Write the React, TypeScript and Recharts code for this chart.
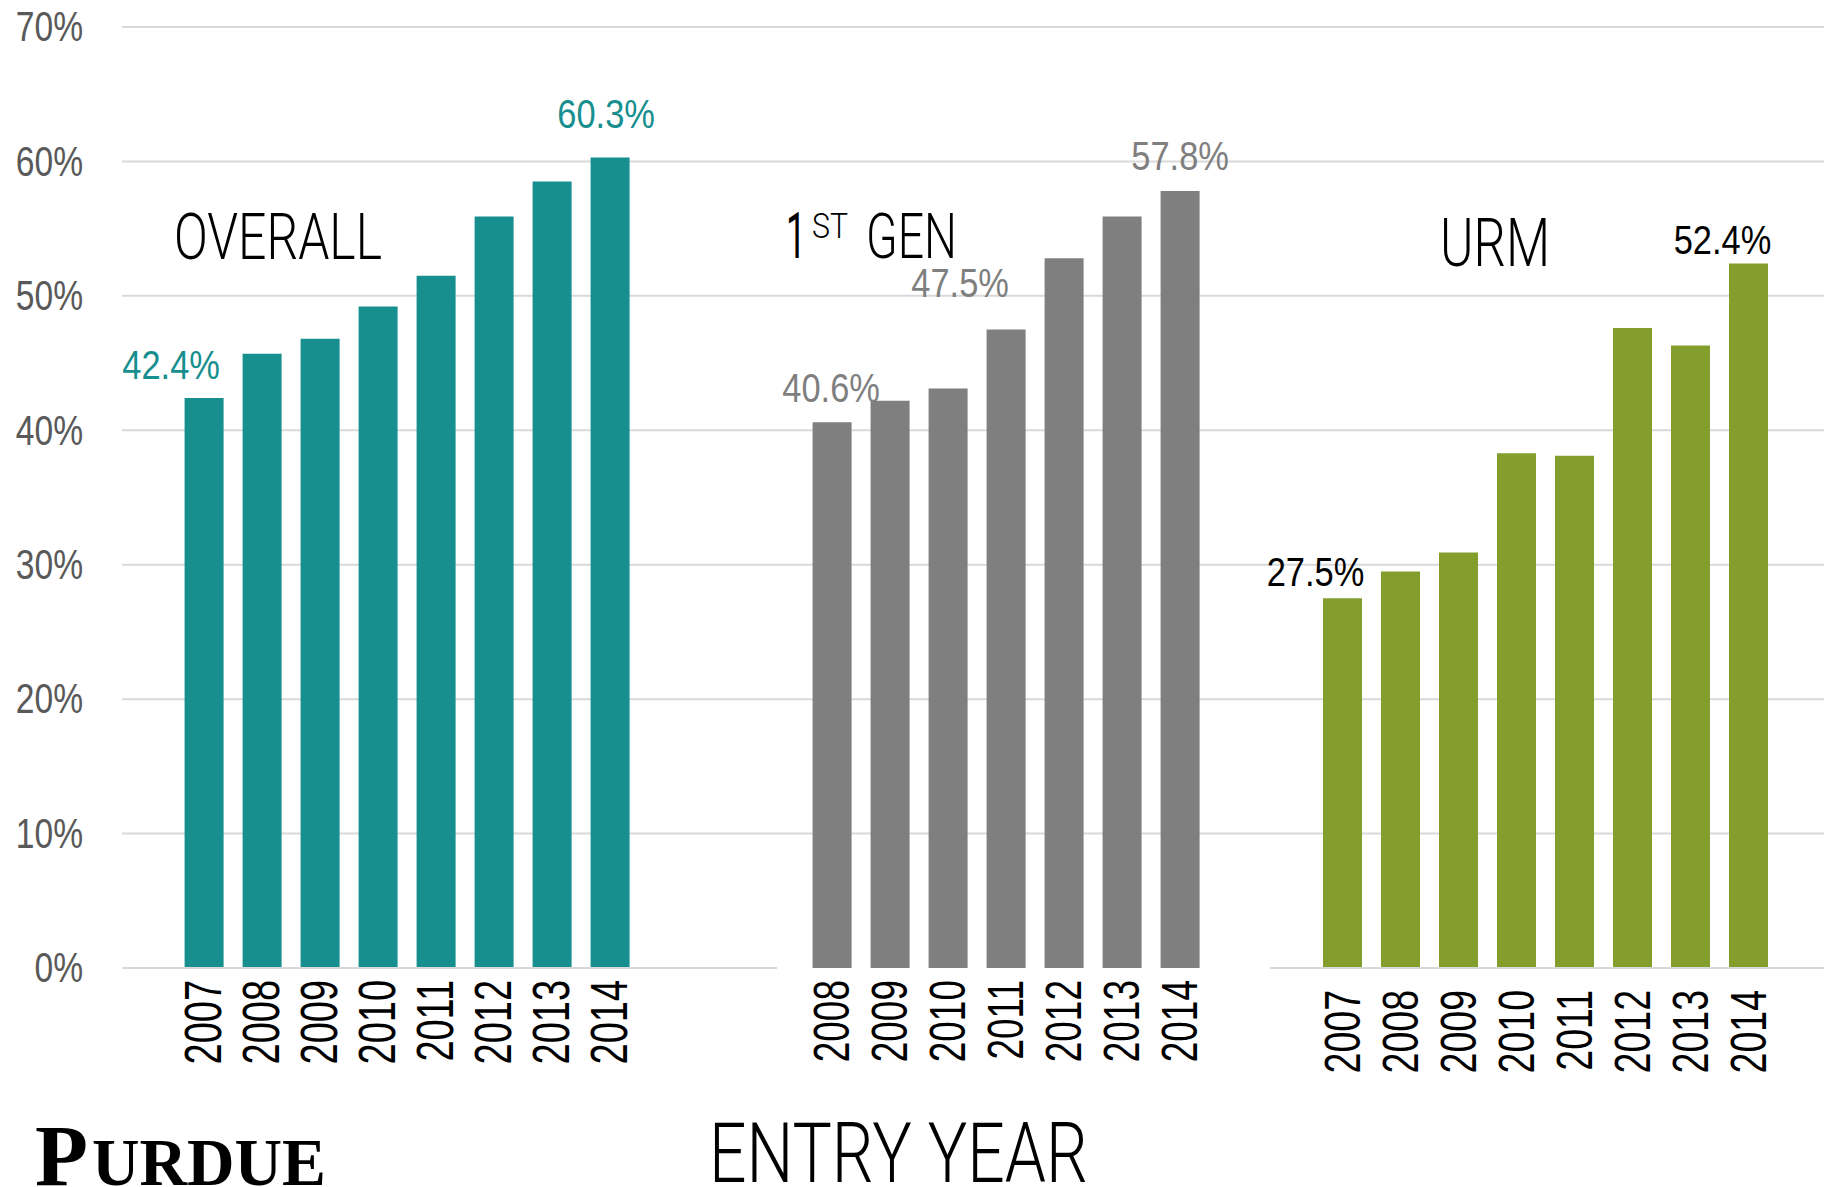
import React from 'react';
import { BarChart, Bar, XAxis, YAxis, CartesianGrid, LabelList } from 'recharts';

// entry years and graduation rates (%) per group
const overallYears = ['2007', '2008', '2009', '2010', '2011', '2012', '2013', '2014'];
const overallRates = [42.4, 45.7, 46.8, 49.2, 51.5, 55.9, 58.5, 60.3];

const firstGenYears = ['2008', '2009', '2010', '2011', '2012', '2013', '2014'];
const firstGenRates = [40.6, 42.2, 43.1, 47.5, 52.8, 55.9, 57.8];

const urmYears = ['2007', '2008', '2009', '2010', '2011', '2012', '2013', '2014'];
const urmRates = [27.5, 29.5, 30.9, 38.3, 38.1, 47.6, 46.3, 52.4];

const yTicks = [0, 10, 20, 30, 40, 50, 60, 70];
const gridValues = [10, 20, 30, 40, 50, 60, 70];

const W = 1824;
const H = 1187;
const PLOT_TOP = 27;
const PLOT_BOTTOM = 968;
const AXIS_H = H - PLOT_BOTTOM;

const TEAL = '#178F8F';
const GREY = '#7F7F7F';
const GREEN = '#839E2C';
const GRID = '#D9D9D9';
const SANS = '"Liberation Sans", Arial, sans-serif';
const LIGHT = 'Roboto, "Liberation Sans", sans-serif';
const SERIF = '"Liberation Serif", serif';

const toRows = (years: string[], rates: number[]) => years.map((year, i) => ({ year, rate: rates[i] }));

type Mark = { index: number; dx: number; gap: number };

// condensed look: regular sans squeezed horizontally
const PercentTick = (props: any) => {
  const { x, y, payload } = props;
  return (
    <text
      transform={`translate(${x},${y}) scale(0.8,1)`}
      textAnchor="end"
      dominantBaseline="central"
      fontFamily={SANS}
      fontSize={42}
      fill="#595959"
    >
      {`${payload.value}%`}
    </text>
  );
};

const makeYearTick = (fontSize: number, sx: number) => (props: any) => {
  const { x, y, payload } = props;
  return (
    <text
      transform={`translate(${x},${y}) rotate(-90) scale(${sx},1)`}
      textAnchor="end"
      dominantBaseline="central"
      fontFamily={SANS}
      fontSize={fontSize}
      fill="#000"
    >
      {payload.value}
    </text>
  );
};

const makeValueLabel = (marks: Mark[], color: string) => (props: any) => {
  const { x, y, width, index, value } = props;
  const mark = marks.find((m) => m.index === index);
  if (!mark) return null;
  const cx = Number(x) + Number(width) / 2 + mark.dx;
  const cy = Number(y) - mark.gap;
  return (
    <text
      key={`lbl-${index}`}
      transform={`translate(${cx},${cy}) scale(0.84,1)`}
      textAnchor="middle"
      fontFamily={SANS}
      fontSize={41}
      fill={color}
    >
      {`${Number(value).toFixed(1)}%`}
    </text>
  );
};

type PanelProps = {
  left: number;
  width: number;
  yAxisWidth: number;
  rows: { year: string; rate: number }[];
  color: string;
  padLeft: number;
  padRight: number;
  axisLine: boolean;
  tickGap: number;
  tickFont: number;
  tickScale: number;
  marks: Mark[];
  labelColor: string;
};

const Panel = (p: PanelProps) => (
  <div style={{ position: 'absolute', left: p.left, top: 0 }}>
    <BarChart width={p.width} height={H} data={p.rows} margin={{ top: PLOT_TOP, right: 0, bottom: 0, left: 0 }}>
      <CartesianGrid vertical={false} horizontalValues={gridValues} stroke={GRID} strokeWidth={2} />
      <XAxis
        dataKey="year"
        height={AXIS_H}
        interval={0}
        padding={{ left: p.padLeft, right: p.padRight }}
        axisLine={p.axisLine ? { stroke: GRID, strokeWidth: 2 } : false}
        tickLine={false}
        tickSize={0}
        tickMargin={p.tickGap}
        tick={makeYearTick(p.tickFont, p.tickScale)}
      />
      {p.yAxisWidth > 0 ? (
        <YAxis
          width={p.yAxisWidth}
          domain={[0, 70]}
          ticks={yTicks}
          interval={0}
          axisLine={false}
          tickLine={false}
          tickSize={0}
          tickMargin={p.yAxisWidth - 83}
          tick={PercentTick}
        />
      ) : (
        <YAxis hide domain={[0, 70]} ticks={yTicks} />
      )}
      <Bar dataKey="rate" fill={p.color} barSize={39} isAnimationActive={false}>
        <LabelList dataKey="rate" content={makeValueLabel(p.marks, p.labelColor)} />
      </Bar>
    </BarChart>
  </div>
);

export default function App() {
  return (
    <div style={{ position: 'absolute', left: 0, top: 0, width: W, height: H, background: '#fff', overflow: 'hidden' }}>
      <style>{'.recharts-surface { overflow: visible; }'}</style>

      <Panel
        left={0}
        width={777}
        yAxisWidth={122}
        rows={toRows(overallYears, overallRates)}
        color={TEAL}
        padLeft={52.6}
        padRight={138.4}
        axisLine
        tickGap={12}
        tickFont={52}
        tickScale={0.73}
        marks={[{ index: 0, dx: -33, gap: 19 }, { index: 7, dx: -4, gap: 29 }]}
        labelColor={TEAL}
      />
      <Panel
        left={777}
        width={493}
        yAxisWidth={0}
        rows={toRows(firstGenYears, firstGenRates)}
        color={GREY}
        padLeft={25.6}
        padRight={61.4}
        axisLine={false}
        tickGap={12}
        tickFont={50}
        tickScale={0.74}
        marks={[{ index: 0, dx: -1, gap: 20 }, { index: 3, dx: -46, gap: 32 }, { index: 6, dx: 0, gap: 21 }]}
        labelColor={GREY}
      />
      <Panel
        left={1270}
        width={554}
        yAxisWidth={0}
        rows={toRows(urmYears, urmRates)}
        color={GREEN}
        padLeft={43}
        padRight={47}
        axisLine
        tickGap={22}
        tickFont={50}
        tickScale={0.75}
        marks={[{ index: 0, dx: -27, gap: 12 }, { index: 7, dx: -26, gap: 10 }]}
        labelColor="#000"
      />

      {/* group titles, axis title and logo */}
      <svg width={W} height={H} style={{ position: 'absolute', left: 0, top: 0, pointerEvents: 'none' }}>
        <text x={174} y={259} fontFamily={LIGHT} fontWeight={300} fontSize={65} textLength={208} lengthAdjust="spacingAndGlyphs" fill="#000">
          OVERALL
        </text>
        <text x={786} y={258} fontFamily={LIGHT} fontWeight={400} fontSize={64} textLength={20} lengthAdjust="spacingAndGlyphs" fill="#000">
          1
        </text>
        <text x={812} y={238} fontFamily={LIGHT} fontWeight={300} fontSize={35} textLength={36} lengthAdjust="spacingAndGlyphs" fill="#000">
          ST
        </text>
        <text x={866} y={258} fontFamily={LIGHT} fontWeight={300} fontSize={63} textLength={91} lengthAdjust="spacingAndGlyphs" fill="#000">
          GEN
        </text>
        <text x={1440} y={266} fontFamily={LIGHT} fontWeight={300} fontSize={66} textLength={110} lengthAdjust="spacingAndGlyphs" fill="#000">
          URM
        </text>
        <text x={709} y={1182} fontFamily={LIGHT} fontWeight={300} fontSize={83} textLength={379} lengthAdjust="spacingAndGlyphs" fill="#000">
          ENTRY YEAR
        </text>
        <text x={35} y={1185} fontFamily={SERIF} fontWeight={700} fontSize={86} textLength={53} lengthAdjust="spacingAndGlyphs" fill="#000">
          P
        </text>
        <text x={92} y={1185} fontFamily={SERIF} fontWeight={700} fontSize={68} textLength={234} lengthAdjust="spacingAndGlyphs" fill="#000">
          URDUE
        </text>
      </svg>
    </div>
  );
}
